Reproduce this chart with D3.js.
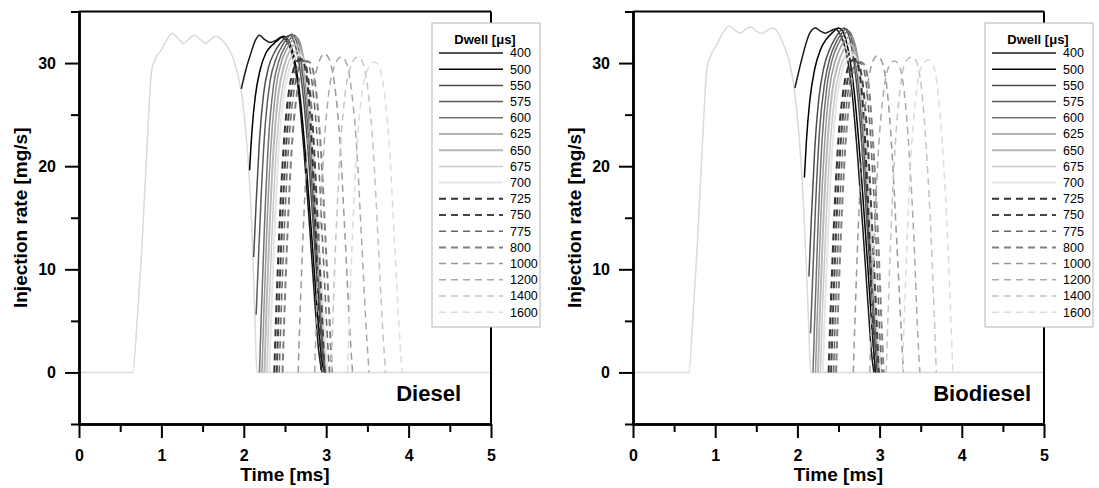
<!DOCTYPE html>
<html>
<head>
<meta charset="utf-8">
<script src="https://cdn.jsdelivr.net/npm/d3@7"></script>
<style>
body { margin: 0; background: #fff; }
text { font-family: "Liberation Sans", Arial, sans-serif; }
</style>
</head>
<body>
<div id="theGraph"></div>
<script>
const width = 1099, height = 488;

const dwells = [400, 500, 550, 575, 600, 625, 650, 675, 700, 725, 750, 775, 800, 1000, 1200, 1400, 1600];
const xTicks = [0, 1, 2, 3, 4, 5];
const xMinor = [0.5, 1.5, 2.5, 3.5, 4.5];
const yTicks = [0, 10, 20, 30];
const yMinor = [-5, 5, 15, 25, 35];
const fuelLabels = ["Diesel", "Biodiesel"];

// first (pilot) injection, same for every dwell
const dFirst = [[0,0],[0.65,0],[0.71,5.5],[0.76,11.6],[0.82,21],[0.88,29.2],[0.92,30.3],[1.0,31.3],[1.07,32.3],[1.13,32.9],[1.2,32.4],[1.27,31.9],[1.34,32.4],[1.40,32.7],[1.47,32.3],[1.53,31.9],[1.6,32.3],[1.66,32.6],[1.73,32.3],[1.8,31.6],[1.87,30.5],[1.93,28.8],[1.98,26.7],[2.03,22.8],[2.07,18.5],[2.1,13.5],[2.13,6.5],[2.16,0],[5,0]];
const bFirst = [[0,0],[0.68,0],[0.73,5.5],[0.78,12],[0.84,21.5],[0.9,29.5],[0.94,30.6],[1.02,31.8],[1.1,33],[1.17,33.6],[1.24,33.2],[1.31,32.9],[1.37,33.3],[1.44,33.5],[1.5,33.1],[1.57,32.9],[1.64,33.2],[1.70,33.4],[1.76,33],[1.83,31.8],[1.9,30.2],[1.96,27.6],[2.02,23],[2.07,17],[2.11,10],[2.14,4],[2.16,0],[5,0]];

// second injection, diesel
const d400 = [[1.97,27.5],[2.02,29.2],[2.08,30.8],[2.14,32.2],[2.19,32.7],[2.25,32.3],[2.32,32.0],[2.39,32.2],[2.45,32.5],[2.52,32.1],[2.59,30.8],[2.66,27.5],[2.73,21.5],[2.8,14],[2.86,7],[2.91,2],[2.95,0]];
const d500 = [[2.07,19.6],[2.1,23.5],[2.14,26.8],[2.2,29.4],[2.27,31],[2.34,31.7],[2.41,32.2],[2.48,32.6],[2.54,32.2],[2.61,30.6],[2.68,27],[2.76,20],[2.84,11.5],[2.9,5],[2.95,1],[2.98,0]];
const d550 = [[2.12,11.2],[2.15,16.5],[2.19,22.5],[2.24,27],[2.3,29.6],[2.37,31],[2.44,31.9],[2.51,32.5],[2.56,32.7],[2.61,32.1],[2.68,29.5],[2.76,23.5],[2.84,14.5],[2.91,6.5],[2.96,1.5],[2.99,0]];
const d575 = [[2.15,5.6],[2.17,9.5],[2.21,17],[2.26,24],[2.32,28.3],[2.39,30.4],[2.46,31.6],[2.53,32.4],[2.58,32.8],[2.63,32.3],[2.7,29.8],[2.78,23.5],[2.86,14],[2.93,5.5],[2.98,1],[3.0,0]];
const d600 = [[2.19,0],[2.21,5],[2.25,14],[2.3,22.5],[2.36,27.8],[2.43,30.3],[2.5,31.6],[2.57,32.4],[2.61,32.7],[2.66,32.2],[2.73,29.5],[2.81,22.5],[2.89,12.5],[2.95,4.5],[3.0,0]];
const d625 = [[2.22,0],[2.24,5],[2.28,14],[2.33,22],[2.39,27.5],[2.46,30.2],[2.53,31.5],[2.6,32.3],[2.64,32.5],[2.69,31.8],[2.76,28.5],[2.84,21],[2.91,11],[2.97,3.5],[3.01,0]];
const d650 = [[2.25,0],[2.27,5],[2.31,13.5],[2.36,21.5],[2.42,27],[2.49,29.8],[2.56,31.2],[2.62,31.8],[2.67,31.6],[2.73,29.8],[2.8,25],[2.87,17],[2.93,8.5],[2.98,2.5],[3.01,0]];
const d675 = [[2.28,0],[2.3,5],[2.34,13],[2.39,21],[2.45,26.5],[2.52,29.5],[2.59,30.8],[2.65,31.2],[2.7,30.6],[2.76,28],[2.83,22],[2.9,13],[2.96,5],[3.0,1],[3.02,0]];
const d700 = [[2.31,0],[2.33,5],[2.37,13],[2.42,21],[2.48,26.5],[2.55,29.3],[2.62,30.5],[2.68,30.8],[2.73,30],[2.79,27],[2.86,20],[2.92,11.5],[2.98,4],[3.02,0]];
const d725 = [[2.37,0],[2.39,5],[2.43,13.5],[2.48,21.5],[2.54,26.8],[2.6,29.3],[2.66,30.3],[2.7,30.4],[2.75,29.3],[2.8,25.5],[2.85,18],[2.89,10],[2.92,3.5],[2.94,0]];
const d750 = [[2.4,0],[2.42,5],[2.46,13.5],[2.51,21.5],[2.57,26.8],[2.63,29.3],[2.69,30.3],[2.73,30.2],[2.78,28.6],[2.84,23.5],[2.9,14],[2.95,5.5],[2.98,0]];
const d775 = [[2.43,0],[2.45,5],[2.49,13.5],[2.54,21.5],[2.6,26.8],[2.66,29.3],[2.72,30.2],[2.77,30.1],[2.83,28],[2.9,21.5],[2.96,12],[3.01,4],[3.04,0]];
const d800 = [[2.47,0],[2.49,5],[2.53,13.5],[2.58,21.5],[2.64,26.8],[2.7,29.3],[2.76,30.2],[2.81,30],[2.87,27.8],[2.94,21],[3.0,11.5],[3.05,3.5],[3.07,0]];
const d1000 = [[2.66,0],[2.68,5],[2.72,13.5],[2.77,21.5],[2.83,27],[2.9,29.8],[2.98,30.9],[3.04,30.3],[3.1,28],[3.17,22],[3.23,13],[3.28,5],[3.32,0]];
const d1200 = [[2.86,0],[2.88,5],[2.92,13.5],[2.97,21.5],[3.03,27],[3.1,29.7],[3.18,30.6],[3.24,30.1],[3.3,27.8],[3.37,21.8],[3.43,12.8],[3.48,5],[3.52,0]];
const d1400 = [[3.06,0],[3.08,5],[3.12,13.5],[3.17,21.5],[3.23,27],[3.3,29.7],[3.38,30.6],[3.44,30.1],[3.5,27.8],[3.57,21.8],[3.63,12.8],[3.68,5],[3.72,0]];
const d1600 = [[3.26,0],[3.28,5],[3.32,13.5],[3.37,21.5],[3.43,26.8],[3.5,29.3],[3.58,30.1],[3.64,29.7],[3.7,27.5],[3.77,21.5],[3.83,12.5],[3.88,5],[3.92,0]];

// second injection, biodiesel
const b400 = [[1.97,27.6],[2.02,29.3],[2.08,31.2],[2.15,32.9],[2.22,33.4],[2.28,33.1],[2.34,32.9],[2.4,33.1],[2.46,33.3],[2.52,32.8],[2.59,31.2],[2.66,27.5],[2.73,21.2],[2.8,13.5],[2.86,6.5],[2.9,2],[2.93,0]];
const b500 = [[2.085,18.9],[2.11,22.5],[2.15,26.3],[2.21,29.4],[2.28,31.3],[2.35,32.3],[2.42,32.9],[2.5,33.4],[2.55,33.1],[2.62,31.2],[2.69,27.3],[2.77,20],[2.85,11],[2.91,4],[2.95,0]];
const b550 = [[2.14,9.3],[2.17,15],[2.21,21.5],[2.26,26.5],[2.32,29.5],[2.39,31.3],[2.46,32.4],[2.53,33.2],[2.57,33.4],[2.62,32.8],[2.69,30],[2.77,23.5],[2.85,14],[2.92,5.5],[2.97,0]];
const b575 = [[2.16,3.8],[2.18,8],[2.22,16],[2.27,23.5],[2.33,28],[2.4,30.6],[2.47,32],[2.54,32.9],[2.59,33.3],[2.64,32.8],[2.71,30],[2.79,23.5],[2.87,13.5],[2.94,5],[2.99,0]];
const b600 = [[2.19,0],[2.21,5],[2.25,14],[2.3,22.5],[2.36,27.8],[2.43,30.5],[2.5,31.9],[2.57,32.8],[2.62,33.1],[2.67,32.5],[2.74,29.5],[2.82,22.5],[2.9,12.5],[2.96,4.5],[3.0,0]];
const b625 = [[2.22,0],[2.24,5],[2.28,14],[2.33,22],[2.39,27.5],[2.46,30.2],[2.53,31.6],[2.6,32.4],[2.65,32.6],[2.7,31.9],[2.77,28.5],[2.85,21],[2.92,11],[2.97,3.5],[3.0,0]];
const b650 = [[2.25,0],[2.27,5],[2.31,13.5],[2.36,21.5],[2.42,27],[2.49,29.8],[2.56,31.2],[2.62,31.9],[2.67,31.7],[2.73,29.8],[2.8,25],[2.87,17],[2.93,8.5],[2.98,2.5],[3.01,0]];
const b675 = [[2.28,0],[2.3,5],[2.34,13],[2.39,21],[2.45,26.5],[2.52,29.5],[2.59,30.8],[2.65,31.2],[2.7,30.6],[2.76,28],[2.83,22],[2.9,13],[2.96,5],[3.0,1],[3.02,0]];
const b700 = [[2.31,0],[2.33,5],[2.37,13],[2.42,21],[2.48,26.5],[2.55,29.3],[2.62,30.5],[2.68,30.8],[2.73,30],[2.79,27],[2.86,20],[2.92,11.5],[2.98,4],[3.02,0]];
const b725 = [[2.38,0],[2.4,5],[2.44,13.5],[2.49,21.5],[2.55,26.8],[2.61,29.4],[2.67,30.3],[2.7,30.4],[2.75,29.3],[2.8,25.5],[2.85,18],[2.89,10],[2.92,3.5],[2.94,0]];
const b750 = [[2.41,0],[2.43,5],[2.47,13.5],[2.52,21.5],[2.58,26.8],[2.64,29.3],[2.7,30.2],[2.74,30],[2.79,28.3],[2.85,23],[2.91,14],[2.96,5.5],[2.99,0]];
const b775 = [[2.44,0],[2.46,5],[2.5,13.5],[2.55,21.5],[2.61,26.8],[2.67,29.3],[2.73,30.1],[2.78,29.9],[2.84,27.8],[2.9,21.5],[2.96,12],[3.0,4],[3.03,0]];
const b800 = [[2.47,0],[2.49,5],[2.53,13.5],[2.58,21.5],[2.64,26.8],[2.7,29.3],[2.76,30.1],[2.81,29.9],[2.87,27.6],[2.93,21],[2.99,11.5],[3.03,3.5],[3.05,0]];
const b1000 = [[2.68,0],[2.7,5],[2.74,14],[2.79,22],[2.85,27.5],[2.91,30],[2.97,30.7],[3.03,30.1],[3.09,27.5],[3.15,21.5],[3.21,12.5],[3.26,4.5],[3.29,0]];
const b1200 = [[2.88,0],[2.9,5],[2.94,14],[2.99,22],[3.05,27.3],[3.11,29.6],[3.18,30.2],[3.24,29.7],[3.3,27.2],[3.36,21.3],[3.42,12.5],[3.46,4.5],[3.49,0]];
const b1400 = [[3.08,0],[3.1,5],[3.14,14],[3.19,22],[3.25,27.5],[3.31,30],[3.39,30.6],[3.45,30.1],[3.51,27.5],[3.57,21.5],[3.63,12.5],[3.67,4.5],[3.69,0]];
const b1600 = [[3.28,0],[3.3,5],[3.34,14],[3.39,22],[3.45,27.3],[3.51,29.7],[3.59,30.3],[3.65,29.8],[3.71,27.3],[3.77,21.3],[3.83,12.5],[3.87,4.5],[3.89,0]];

const dieselCurves = [d400, d500, d550, d575, d600, d625, d650, d675, d700, d725, d750, d775, d800, d1000, d1200, d1400, d1600];
const biodieselCurves = [b400, b500, b550, b575, b600, b625, b650, b675, b700, b725, b750, b775, b800, b1000, b1200, b1400, b1600];

// line styles per dwell
const strokes = ["#1a1a1a", "#000", "#4d4d4d", "#5c5c5c", "#707070", "#999", "#b8b8b8", "#c8c8c8", "#e6e6e6",
                 "#333", "#444", "#666", "#808080", "#999", "#aaa", "#c4c4c4", "#dcdcdc"];
const widths = [1.5, 1.5, 1.5, 1.5, 1.5, 1.5, 2, 1.5, 2, 2, 2, 1.5, 2, 1.5, 1.5, 1.5, 1.5];

const svg = d3.select("#theGraph").append("svg").attr("width", width).attr("height", height);

const panels = [
    {left: 79, right: 491, first: dFirst, curves: dieselCurves, label: fuelLabels[0], labelX: 461},
    {left: 633, right: 1044, first: bFirst, curves: biodieselCurves, label: fuelLabels[1], labelX: 1031}
];
const plotTop = 11.5, plotBottom = 424;

function drawPanel(p) {
    const g = svg.append("g");
    const xScale = d3.scaleLinear().domain([0, 5]).range([p.left, p.right]);
    const yScale = d3.scaleLinear().domain([-5, 35]).range([plotBottom, plotTop]);
    const line = d3.line().x(d => xScale(d[0])).y(d => yScale(d[1])).curve(d3.curveMonotoneX);

    // curves
    g.append("path").attr("d", line(p.first)).attr("fill", "none").attr("stroke", "#dadada").attr("stroke-width", 1.5);
    p.curves.forEach((c, i) => {
        g.append("path").attr("d", line(c)).attr("fill", "none")
            .attr("stroke", strokes[i]).attr("stroke-width", widths[i])
            .attr("stroke-dasharray", i >= 9 ? "7,5" : null);
    });

    // frame
    g.append("line").attr("x1", p.left).attr("x2", p.right).attr("y1", plotTop).attr("y2", plotTop).attr("stroke", "#000").attr("stroke-width", 2);
    g.append("line").attr("x1", p.right).attr("x2", p.right).attr("y1", plotTop).attr("y2", plotBottom).attr("stroke", "#000").attr("stroke-width", 2);

    // axes
    g.append("g").attr("transform", `translate(${p.left},0)`)
        .call(d3.axisLeft(yScale).tickValues(yTicks).tickSize(14).tickSizeOuter(0).tickPadding(9).tickFormat(d3.format("d")));
    g.append("g").attr("transform", `translate(${p.left},0)`)
        .call(d3.axisLeft(yScale).tickValues(yMinor).tickSize(8).tickSizeOuter(0).tickFormat(""));
    g.append("g").attr("transform", `translate(0,${plotBottom})`)
        .call(d3.axisBottom(xScale).tickValues(xTicks).tickSize(14).tickSizeOuter(0).tickPadding(12).tickFormat(d3.format("d")));
    g.append("g").attr("transform", `translate(0,${plotBottom})`)
        .call(d3.axisBottom(xScale).tickValues(xMinor).tickSize(8).tickSizeOuter(0).tickFormat(""));
    g.selectAll(".domain").attr("stroke", "#000").attr("stroke-width", 2.5);
    g.selectAll(".tick line").attr("stroke", "#000").attr("stroke-width", 2);
    g.selectAll(".tick text").attr("font-size", 16).attr("font-weight", "bold").attr("fill", "#000")
        .attr("font-family", '"Liberation Sans", Arial, sans-serif');

    // titles
    g.append("text").attr("transform", `translate(${p.left - 59},${(plotTop + plotBottom) / 2}) rotate(-90)`)
        .attr("text-anchor", "middle").attr("dy", "0.35em").attr("font-size", 19).attr("font-weight", "bold")
        .text("Injection rate [mg/s]");
    g.append("text").attr("x", (p.left + p.right) / 2).attr("y", 481).attr("text-anchor", "middle")
        .attr("font-size", 19).attr("font-weight", "bold").text("Time [ms]");
    g.append("text").attr("x", p.labelX).attr("y", 401).attr("text-anchor", "end")
        .attr("font-size", 22).attr("font-weight", "bold").text(p.label);

    // legend
    const lx = p.right - 59, ly = 23;
    const leg = g.append("g");
    leg.append("rect").attr("x", lx).attr("y", ly).attr("width", 108).attr("height", 304)
        .attr("fill", "#fff").attr("stroke", "#b5b5b5").attr("stroke-width", 1);
    leg.append("text").attr("x", lx + 53).attr("y", ly + 21).attr("text-anchor", "middle")
        .attr("font-size", 13).attr("font-weight", "bold").text("Dwell [\u03bcs]");
    dwells.forEach((dw, i) => {
        const yy = ly + 30 + i * 16.2;
        leg.append("line").attr("x1", lx + 7).attr("x2", lx + 71).attr("y1", yy).attr("y2", yy)
            .attr("stroke", strokes[i]).attr("stroke-width", widths[i])
            .attr("stroke-dasharray", i >= 9 ? "7,5" : null);
        leg.append("text").attr("x", lx + 78).attr("y", yy).attr("dy", "0.35em")
            .attr("font-size", 12.5).text(dw);
    });
}

panels.forEach(drawPanel);
</script>
</body>
</html>
